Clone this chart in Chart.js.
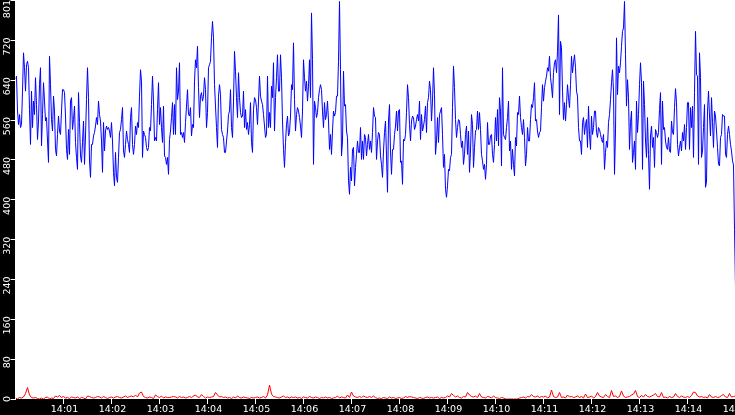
<!DOCTYPE html>
<html>
<head>
<meta charset="utf-8">
<script src="https://cdn.jsdelivr.net/npm/chart.js@4/dist/chart.umd.min.js"></script>
<style>
  html, body { margin: 0; padding: 0; background: #000; overflow: hidden; }
  #wrap { width: 755px; height: 415px; }
</style>
</head>
<body>
<div id="wrap"><canvas id="grafico" width="755" height="415"></canvas></div>
<script>
// 14:00:00 -> 14:15:00, blue sampled every 1.25 s, red every 2.5 s
const pasoAzul = 1.25;
const pasoRojo = 2.5;

const etiquetasX = ["14:01", "14:02", "14:03", "14:04", "14:05", "14:06", "14:07",
    "14:08", "14:09", "14:10", "14:11", "14:12", "14:13", "14:14", "14:15"];
const marcasY = [0, 80, 160, 240, 320, 400, 480, 560, 640, 720, 801];

const serieAzul = [
    // 14:00:00 - 14:02:30
    643, 648, 578, 551, 571, 545, 551, 618, 695, 665, 618, 671, 678, 665, 581, 511, 618, 545, 598, 571,
    645, 591, 521, 558, 631, 665, 508, 571, 635, 598, 558, 565, 518, 475, 688, 631, 561, 538, 608, 578,
    501, 488, 531, 568, 538, 531, 578, 621, 621, 615, 568, 501, 481, 541, 491, 598, 605, 541, 561, 588,
    515, 485, 461, 615, 555, 488, 475, 515, 558, 471, 528, 601, 665, 605, 478, 445, 511, 511, 528, 535,
    548, 565, 551, 598, 571, 558, 518, 455, 555, 498, 538, 548, 541, 545, 538, 525, 555, 518, 455, 428,
    495, 445, 435, 485, 535, 541, 561, 585, 498, 485, 511, 538, 521, 511, 495, 565, 585, 511, 491, 511,
    // 14:02:30 - 14:05:00
    548, 531, 555, 545, 608, 661, 638, 485, 538, 531, 525, 505, 498, 505, 545, 538, 591, 648, 598, 518,
    525, 518, 581, 635, 551, 585, 545, 515, 588, 488, 485, 471, 485, 451, 521, 538, 565, 595, 531, 591,
    531, 665, 601, 618, 675, 531, 535, 525, 535, 515, 555, 588, 621, 571, 568, 585, 528, 551, 545, 638,
    681, 665, 708, 625, 565, 608, 615, 598, 608, 645, 621, 545, 575, 665, 671, 678, 725, 758, 725, 631,
    588, 545, 505, 608, 631, 611, 541, 531, 525, 495, 495, 518, 538, 571, 578, 621, 545, 525, 598, 698,
    658, 605, 565, 655, 605, 575, 565, 568, 618, 545, 581, 541, 555, 531, 551, 595, 515, 495, 581, 605,
    // 14:05:00 - 14:07:30
    601, 585, 551, 598, 648, 608, 598, 591, 571, 548, 525, 531, 648, 545, 575, 545, 628, 605, 675, 538,
    605, 645, 691, 618, 618, 691, 645, 558, 501, 465, 515, 551, 568, 528, 535, 568, 631, 621, 715, 601,
    538, 571, 585, 578, 565, 548, 525, 578, 681, 645, 618, 638, 598, 628, 681, 605, 775, 681, 471, 598,
    585, 565, 575, 605, 621, 631, 621, 578, 545, 595, 561, 571, 598, 558, 501, 531, 491, 538, 578, 568,
    575, 608, 608, 678, 798, 661, 488, 518, 658, 588, 591, 538, 525, 438, 411, 465, 438, 501, 505, 428,
    465, 491, 518, 495, 495, 545, 481, 518, 481, 531, 525, 488, 511, 531, 501, 518, 495, 535, 585, 568,
    // 14:07:30 - 14:10:00
    565, 481, 518, 535, 531, 488, 471, 445, 498, 535, 558, 488, 415, 558, 591, 498, 451, 501, 501, 531,
    548, 578, 538, 578, 581, 475, 478, 431, 521, 518, 531, 575, 631, 605, 551, 518, 558, 568, 565, 541,
    548, 561, 571, 558, 598, 521, 571, 538, 548, 561, 588, 535, 595, 605, 638, 621, 558, 598, 665, 611,
    491, 518, 565, 515, 571, 578, 585, 531, 465, 491, 421, 405, 428, 461, 458, 485, 491, 585, 668, 625,
    561, 525, 545, 561, 558, 531, 505, 518, 471, 491, 531, 548, 491, 538, 455, 498, 571, 551, 465, 505,
    538, 541, 578, 541, 575, 541, 491, 478, 461, 471, 441, 471, 555, 511, 511, 528, 531, 491, 475, 511,
    // 14:10:00 - 14:12:30
    565, 518, 581, 508, 605, 578, 468, 665, 531, 525, 521, 545, 565, 598, 498, 518, 461, 501, 471, 448,
    525, 508, 575, 571, 608, 565, 545, 531, 561, 525, 468, 491, 545, 518, 518, 561, 591, 585, 605, 635,
    558, 561, 538, 525, 535, 538, 585, 631, 598, 625, 638, 648, 665, 658, 688, 645, 628, 605, 655, 675,
    681, 655, 698, 771, 571, 718, 705, 618, 561, 595, 558, 591, 631, 605, 585, 631, 688, 655, 675, 691,
    665, 618, 608, 545, 518, 518, 491, 555, 565, 531, 551, 561, 505, 588, 531, 501, 568, 531, 545, 578,
    578, 535, 525, 545, 541, 531, 521, 515, 531, 461, 495, 518, 505, 555, 571, 601, 635, 661, 618, 451,
    // 14:12:30 - 14:15:00
    538, 725, 611, 668, 655, 675, 708, 738, 745, 798, 691, 588, 641, 605, 501, 555, 578, 475, 495, 518,
    461, 598, 535, 571, 631, 675, 635, 461, 638, 591, 518, 485, 565, 491, 421, 528, 548, 505, 525, 465,
    541, 535, 525, 535, 581, 615, 471, 598, 541, 545, 518, 505, 501, 525, 498, 495, 558, 535, 531, 585,
    623, 595, 511, 488, 505, 518, 498, 535, 518, 551, 501, 545, 595, 595, 501, 585, 545, 588, 485, 615,
    738, 651, 648, 471, 695, 645, 485, 498, 545, 591, 425, 435, 578, 618, 568, 528, 605, 555, 505, 578,
    568, 538, 505, 471, 468, 525, 531, 571, 568, 568, 491, 485, 531, 548, 531, 511, 498, 478, 470, 340,
    223
];

const serieRoja = [
    2, 0, 3, 2, 4, 11, 23, 8, 3, 2, 3, 1, 0, 2, 0, 3, 4, 0, 2, 1,
    6, 4, 7, 3, 5, 2, 3, 1, 4, 3, 2, 4, 1, 3, 2, 0, 6, 5, 3, 2,
    3, 5, 4, 2, 5, 3, 1, 3, 4, 2, 4, 5, 3, 2, 4, 6, 3, 5, 6, 4,
    8, 4, 12, 14, 5, 3, 2, 4, 3, 1, 8, 5, 3, 6, 2, 4, 3, 3, 4, 5,
    4, 2, 5, 3, 4, 2, 3, 5, 3, 6, 8, 4, 3, 9, 5, 2, 4, 3, 4, 5,
    13, 8, 4, 5, 3, 4, 2, 3, 1, 4, 2, 6, 3, 2, 4, 3, 2, 1, 3, 2,
    3, 4, 2, 3, 5, 2, 8, 28, 10, 5, 4, 3, 2, 4, 6, 3, 4, 2, 4, 3,
    4, 2, 3, 1, 4, 3, 2, 5, 3, 2, 4, 3, 1, 3, 2, 4, 2, 3, 1, 2,
    3, 6, 2, 4, 3, 2, 8, 3, 14, 6, 4, 3, 5, 3, 6, 4, 3, 5, 3, 6,
    3, 1, 2, 1, 3, 2, 1, 4, 2, 3, 1, 2, 3, 1, 2, 5, 3, 5, 4, 3,
    2, 1, 3, 2, 1, 3, 4, 2, 3, 2, 3, 4, 1, 3, 2, 3, 6, 4, 11, 7,
    4, 6, 3, 2, 5, 4, 13, 8, 5, 4, 6, 3, 11, 4, 3, 2, 5, 4, 2, 6,
    3, 2, 1, 3, 2, 0, 0, 0, 0, 0, 0, 0, 2, 3, 4, 2, 5, 4, 9, 5,
    4, 6, 3, 5, 4, 6, 2, 4, 18, 5, 3, 4, 13, 3, 4, 2, 8, 4, 5, 3,
    4, 6, 3, 5, 2, 10, 3, 4, 6, 2, 5, 13, 6, 4, 3, 9, 5, 3, 17, 5,
    6, 3, 5, 16, 6, 3, 4, 5, 8, 10, 17, 5, 3, 7, 4, 9, 5, 4, 6, 8,
    11, 5, 4, 13, 3, 4, 2, 5, 3, 4, 11, 5, 3, 6, 4, 3, 5, 3, 7, 14,
    13, 6, 4, 5, 3, 4, 2, 9, 4, 3, 5, 3, 4, 7, 9, 4, 3, 11, 4, 5,
    6
];

const aPuntos = (serie, paso) => serie.map((v, i) => ({ x: i * paso, y: v }));
const segundosDe = etiqueta => parseInt(etiqueta.slice(3), 10) * 60;

// black frame around a white plot area
const fondo = {
    id: "fondo",
    beforeDraw(chart) {
        const { ctx, chartArea: a } = chart;
        ctx.save();
        ctx.fillStyle = "#000";
        ctx.fillRect(0, 0, chart.width, chart.height);
        ctx.fillStyle = "#fff";
        ctx.fillRect(Math.floor(a.left), a.top, Math.ceil(a.right - a.left), a.bottom - a.top);
        ctx.restore();
    }
};

// keep the top y label inside the canvas
function ajustarEtiquetasY(escala) {
    const original = Object.getPrototypeOf(escala).getLabelItems;
    escala.getLabelItems = function (area) {
        const items = original.call(this, area);
        items.forEach(it => {
            if (it.options.translation[1] < 0) it.options.translation[1] = 0;
        });
        return items;
    };
}

Chart.defaults.font.family = "'DejaVu Sans', sans-serif";

new Chart(document.getElementById("grafico"), {
    type: "line",
    data: {
        datasets: [
            {
                label: "azul",
                data: aPuntos(serieAzul, pasoAzul),
                borderColor: "#0000ff",
                borderWidth: 1,
                pointRadius: 0,
                tension: 0,
                fill: false
            },
            {
                label: "rojo",
                data: aPuntos(serieRoja, pasoRojo),
                borderColor: "#ff0000",
                borderWidth: 1,
                pointRadius: 0,
                tension: 0,
                fill: false
            }
        ]
    },
    options: {
        responsive: false,
        animation: false,
        devicePixelRatio: 1,
        layout: { padding: { left: 0.5, top: 0, right: 19.5, bottom: 0 } },
        plugins: {
            legend: { display: false },
            tooltip: { enabled: false }
        },
        scales: {
            x: {
                type: "linear",
                min: 0,
                max: 900,
                afterBuildTicks: escala => {
                    escala.ticks = etiquetasX.map(e => ({ value: segundosDe(e) }));
                },
                afterFit: escala => {
                    escala.height = 16;
                    escala.paddingLeft = 0;
                    escala.paddingRight = 0;
                },
                ticks: {
                    color: "#fff",
                    font: { size: 9.5 },
                    padding: 0,
                    labelOffset: 1,
                    maxRotation: 0,
                    autoSkip: false,
                    callback: (valor, i) => etiquetasX[i]
                },
                grid: {
                    drawOnChartArea: false,
                    drawTicks: true,
                    tickLength: 5,
                    color: "#fff"
                },
                border: { display: false }
            },
            y: {
                min: 0,
                max: 801,
                afterBuildTicks: escala => {
                    escala.ticks = marcasY.map(v => ({ value: v }));
                },
                afterFit: escala => {
                    escala.width = 15;
                    escala.paddingTop = 0;
                    escala.paddingBottom = 0;
                    ajustarEtiquetasY(escala);
                },
                ticks: {
                    color: "#fff",
                    font: { size: 9.5 },
                    padding: 3,
                    minRotation: 90,
                    maxRotation: 90,
                    labelOffset: -3,
                    autoSkip: false,
                    callback: valor => String(valor)
                },
                grid: {
                    drawOnChartArea: false,
                    drawTicks: true,
                    tickLength: 5,
                    color: "#fff"
                },
                border: { display: false }
            }
        }
    },
    plugins: [fondo]
});
</script>
</body>
</html>
